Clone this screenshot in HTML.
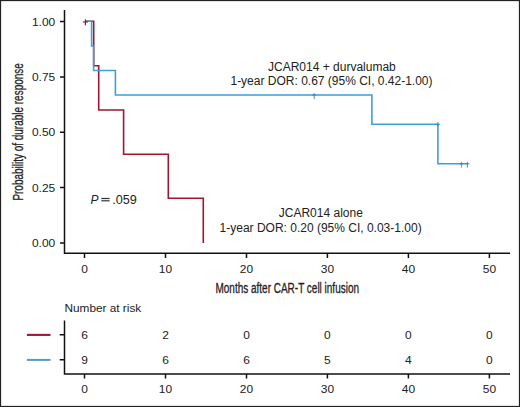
<!DOCTYPE html>
<html>
<head>
<meta charset="utf-8">
<style>
html,body{margin:0;padding:0;background:#fff;}
body{width:520px;height:407px;overflow:hidden;position:relative;}
svg{position:absolute;left:0;top:0;display:block;}
text{font-family:"Liberation Sans",sans-serif;fill:#222;}
.t{font-size:12.0px;}
.n{font-size:11.2px;}
.c{font-size:14px;stroke:#222;stroke-width:0.3px;}
</style>
</head>
<body>
<svg width="520" height="407" viewBox="0 0 520 407">
<rect x="0.5" y="0.5" width="519" height="406" fill="none" stroke="#222" stroke-width="1.25"/>
<g stroke="#111" stroke-width="1.5" fill="none">
<path d="M64.5,10 V253.2 H510"/>
<path d="M60,21.5 H64.5 M60,76.9 H64.5 M60,132.25 H64.5 M60,187.6 H64.5 M60,243.0 H64.5"/>
<path d="M84.5,253.2 V258 M165.5,253.2 V258 M246.5,253.2 V258 M327.4,253.2 V258 M408.4,253.2 V258 M489.4,253.2 V258"/>
<path d="M64.5,320.4 V374.1 H510"/>
<path d="M59.7,334.7 H64.5 M59.7,359.8 H64.5"/>
<path d="M84.5,374.1 V378.6 M165.5,374.1 V378.6 M246.5,374.1 V378.6 M327.4,374.1 V378.6 M408.4,374.1 V378.6 M489.4,374.1 V378.6"/>
</g>
<text class="n" text-anchor="end" transform="translate(55.2,25.6) scale(1.07,1)">1.00</text>
<text class="n" text-anchor="end" transform="translate(55.2,81.0) scale(1.07,1)">0.75</text>
<text class="n" text-anchor="end" transform="translate(55.2,136.35) scale(1.07,1)">0.50</text>
<text class="n" text-anchor="end" transform="translate(55.2,191.7) scale(1.07,1)">0.25</text>
<text class="n" text-anchor="end" transform="translate(55.2,247.1) scale(1.07,1)">0.00</text>
<text class="n" text-anchor="middle" transform="translate(84.5,273.4) scale(1.07,1)">0</text>
<text class="n" text-anchor="middle" transform="translate(84.5,393.4) scale(1.07,1)">0</text>
<text class="n" text-anchor="middle" transform="translate(165.5,273.4) scale(1.07,1)">10</text>
<text class="n" text-anchor="middle" transform="translate(165.5,393.4) scale(1.07,1)">10</text>
<text class="n" text-anchor="middle" transform="translate(246.5,273.4) scale(1.07,1)">20</text>
<text class="n" text-anchor="middle" transform="translate(246.5,393.4) scale(1.07,1)">20</text>
<text class="n" text-anchor="middle" transform="translate(327.4,273.4) scale(1.07,1)">30</text>
<text class="n" text-anchor="middle" transform="translate(327.4,393.4) scale(1.07,1)">30</text>
<text class="n" text-anchor="middle" transform="translate(408.4,273.4) scale(1.07,1)">40</text>
<text class="n" text-anchor="middle" transform="translate(408.4,393.4) scale(1.07,1)">40</text>
<text class="n" text-anchor="middle" transform="translate(489.4,273.4) scale(1.07,1)">50</text>
<text class="n" text-anchor="middle" transform="translate(489.4,393.4) scale(1.07,1)">50</text>
<text class="n" text-anchor="middle" transform="translate(84.5,339.2) scale(1.07,1)">6</text>
<text class="n" text-anchor="middle" transform="translate(165.5,339.2) scale(1.07,1)">2</text>
<text class="n" text-anchor="middle" transform="translate(246.5,339.2) scale(1.07,1)">0</text>
<text class="n" text-anchor="middle" transform="translate(327.4,339.2) scale(1.07,1)">0</text>
<text class="n" text-anchor="middle" transform="translate(408.4,339.2) scale(1.07,1)">0</text>
<text class="n" text-anchor="middle" transform="translate(489.4,339.2) scale(1.07,1)">0</text>
<text class="n" text-anchor="middle" transform="translate(84.5,363.7) scale(1.07,1)">9</text>
<text class="n" text-anchor="middle" transform="translate(165.5,363.7) scale(1.07,1)">6</text>
<text class="n" text-anchor="middle" transform="translate(246.5,363.7) scale(1.07,1)">6</text>
<text class="n" text-anchor="middle" transform="translate(327.4,363.7) scale(1.07,1)">5</text>
<text class="n" text-anchor="middle" transform="translate(408.4,363.7) scale(1.07,1)">4</text>
<text class="n" text-anchor="middle" transform="translate(489.4,363.7) scale(1.07,1)">0</text>
<text class="c" x="215.5" y="293.3" textLength="143.5" lengthAdjust="spacingAndGlyphs">Months after CAR-T cell infusion</text>
<text class="c" style="font-size:15px" transform="translate(23.3,200.6) rotate(-90)" x="0" y="0" textLength="137.4" lengthAdjust="spacingAndGlyphs">Probability of durable response</text>
<path d="M85.4,21.3 H93.7 V65.8 H98.7 V110 H123.6 V154.2 H168.3 V198.3 H203.3 V243" fill="none" stroke="#a3152f" stroke-width="1.6"/>
<path d="M85.4,21.3 H91.6 V46 H93.6 V70.5 H115.4 V95 H371.9 V124.3 H437.9 V163.8 H467.5" fill="none" stroke="#3ea0d3" stroke-width="1.6"/>
<path d="M85.4,19.4 V25.3 M82.8,22 H88" stroke="#7d1a3a" stroke-width="1.2"/>
<g stroke="#3a86b4" stroke-width="0.9">
<path d="M314.2,93 V99.2 M312.2,95 H316.3"/>
<path d="M437.9,122 V126.5 M435.9,124.3 H440.2"/>
<path d="M461.4,162 V167.6 M459.6,163.8 H463.4"/>
<path d="M467.4,162 V167.6 M465.6,163.8 H469.6"/>
</g>
<g class="t" text-anchor="middle">
<text x="331.9" y="70.8">JCAR014 + durvalumab</text>
<text x="331.5" y="84.7">1-year DOR: 0.67 (95% CI, 0.42-1.00)</text>
<text x="320.8" y="217.3">JCAR014 alone</text>
<text x="320.6" y="231.5">1-year DOR: 0.20 (95% CI, 0.03-1.00)</text>
</g>
<text class="t" x="90.6" y="203.6" font-style="italic">P</text>
<rect x="101.3" y="197.9" width="8.3" height="1.2" fill="#333"/>
<rect x="101.3" y="200.2" width="8.3" height="1.2" fill="#333"/>
<text class="t" x="112.2" y="203.6" textLength="24.6" lengthAdjust="spacingAndGlyphs">.059</text>
<text class="t" x="64.5" y="312.1" style="font-size:11.8px">Number at risk</text>
<path d="M26.9,334.9 H50.5" stroke="#a0173a" stroke-width="2.1"/>
<path d="M26.9,359.9 H50.5" stroke="#4f9cc8" stroke-width="2"/>
</svg>
</body>
</html>
